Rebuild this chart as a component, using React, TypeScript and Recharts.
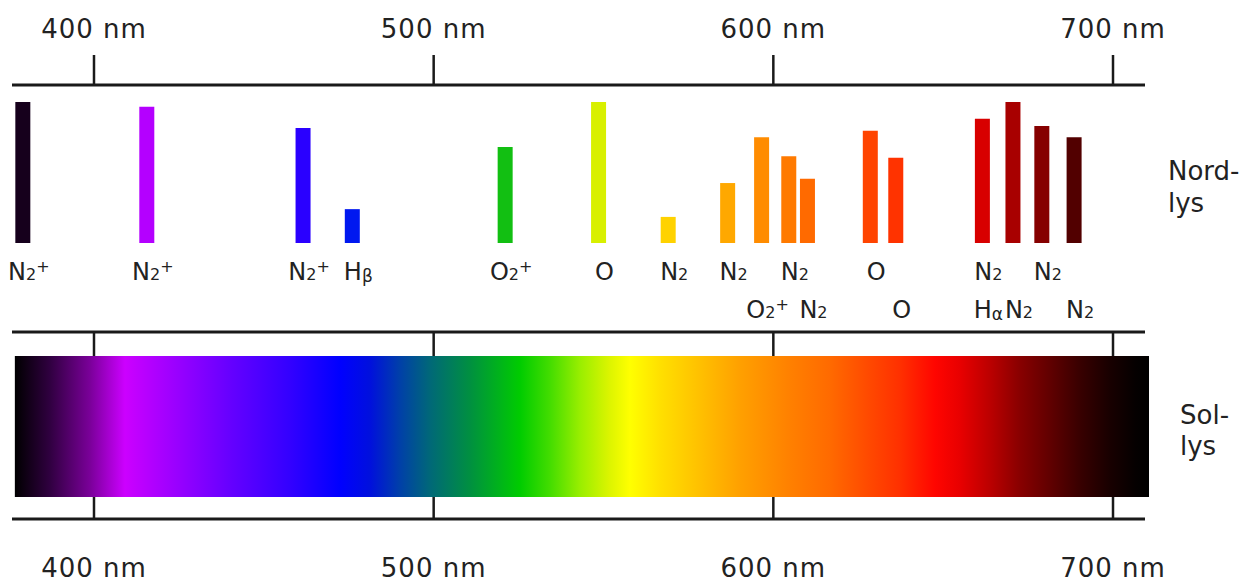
import React from "react";
import {
  ComposedChart,
  Bar,
  Cell,
  XAxis,
  YAxis,
  LabelList,
  ReferenceArea,
} from "recharts";

// emission lines of the aurora (nm, as drawn) and relative intensity
const wavelengths = [
  379, 415.5, 461.5, 476, 521, 548.5, 569, 586.5, 596.5, 604.5, 610, 628.5,
  636, 661.5, 670.5, 679, 688.5,
];
const intensity = [
  100, 96.5, 81.5, 24, 68, 100, 18.5, 42.5, 75, 61.5, 45.5, 79.5, 60.5, 88,
  100, 83, 75,
];
// first and second row of labels under the lines
const labelUpper = [
  "N2+", "N2+", "N2+", "Hβ", "O2+", "O", "N2", "N2", "", "N2", "", "O", "",
  "N2", "", "N2", "",
];
const labelLower = [
  "", "", "", "", "", "", "", "", "O2+", "", "N2", "", "O", "Hα", "N2", "",
  "N2",
];
const axisTicks = [400, 500, 600, 700];
// visible range of the sunlight band (nm)
const spectrumStart = 376.7;
const spectrumEnd = 710.6;

const BAR_COLORS = [
  "#16001c", "#b400ff", "#2a00ff", "#0018f0", "#12bf12", "#d8f000",
  "#ffd200", "#ffa800", "#ff8c00", "#ff7a00", "#ff6a00", "#ff4400",
  "#ff3300", "#d80000", "#a80000", "#860000", "#520000",
];

// colour stops of the sunlight spectrum, keyed by wavelength
const SPECTRUM_STOPS: [number, string][] = [
  [376.7, "#000000"],
  [387.0, "#300040"],
  [398.8, "#7a0099"],
  [409.1, "#cc00ff"],
  [422.4, "#a000ff"],
  [440.0, "#6600ff"],
  [457.7, "#3300ff"],
  [472.4, "#0000ff"],
  [481.3, "#0010dd"],
  [490.1, "#0040a8"],
  [498.9, "#006878"],
  [510.7, "#009040"],
  [525.4, "#00cc00"],
  [534.3, "#44dd00"],
  [543.1, "#99ee00"],
  [551.9, "#ddf500"],
  [557.8, "#ffff00"],
  [566.6, "#ffe000"],
  [578.4, "#ffc000"],
  [590.2, "#ffa000"],
  [604.9, "#ff8000"],
  [616.7, "#ff6a00"],
  [628.5, "#ff4800"],
  [637.3, "#ff3000"],
  [647.6, "#ff0500"],
  [655.0, "#e80000"],
  [663.8, "#bb0000"],
  [672.6, "#880000"],
  [681.5, "#600000"],
  [690.3, "#380000"],
  [699.1, "#180000"],
  [706.5, "#050000"],
  [710.6, "#000000"],
];

const FONT = '"DejaVu Sans", Verdana, sans-serif';
const INK = "#1a1a1a";
const X_DOMAIN: [number, number] = [375.86, 709.42];

const chartData = wavelengths.map((nm, i) => ({
  nm,
  value: intensity[i],
  upper: labelUpper[i],
  lower: labelLower[i],
}));

// the sunlight band as one record spanning the visible range
const bandData = [{ nm: spectrumStart, end: spectrumEnd }];

// draws e.g. "N2+" as N with a small 2 and a raised +
function Formula({ x, y, text }: { x: number; y: number; text: string }) {
  const parts = Array.from(text).map((ch, i) => {
    if (/[0-9]/.test(ch)) {
      return (
        <tspan key={i} fontSize={16}>
          {ch}
        </tspan>
      );
    }
    if (ch === "+") {
      return (
        <tspan key={i} fontSize={16} dy={-8}>
          +
        </tspan>
      );
    }
    if (/[α-ω]/.test(ch)) {
      return (
        <tspan key={i} fontSize={17} dy={2}>
          {ch}
        </tspan>
      );
    }
    return <tspan key={i}>{ch}</tspan>;
  });
  return (
    <text
      x={x}
      y={y}
      textAnchor="middle"
      fontSize={24}
      fontFamily={FONT}
      fill="#222"
    >
      {parts}
    </text>
  );
}

const rowLabel = (offset: number) => (props: any) => {
  const { x, y, width, height, value } = props;
  if (!value) return null;
  return (
    <Formula
      x={Number(x) + Number(width) / 2 + 6}
      y={Number(y) + Number(height) + offset}
      text={String(value)}
    />
  );
};

// tick pointing down into the band, no text
function MidTick(props: any) {
  const { x, y } = props;
  return (
    <line x1={x} x2={x} y1={y} y2={y + 24} stroke={INK} strokeWidth={2.5} />
  );
}

// tick pointing up into the band, label below the axis
function BottomTick(props: any) {
  const { x, y, payload } = props;
  return (
    <g>
      <line x1={x} x2={x} y1={y - 22} y2={y} stroke={INK} strokeWidth={2.5} />
      <text
        x={x}
        y={y + 58}
        textAnchor="middle"
        fontSize={26}
        letterSpacing={1}
        fill="#222"
        fontFamily={FONT}
      >
        {`${payload.value} nm`}
      </text>
    </g>
  );
}

const sideText: React.CSSProperties = {
  position: "absolute",
  fontFamily: FONT,
  fontSize: 26,
  color: "#222",
  whiteSpace: "pre",
};

export default function App() {
  const span = spectrumEnd - spectrumStart;
  return (
    <div
      style={{
        position: "absolute",
        left: 0,
        top: 0,
        width: 1243,
        height: 586,
        background: "#fff",
        overflow: "hidden",
      }}
    >
      {/* aurora emission lines */}
      <div style={{ position: "absolute", left: 0, top: 0 }}>
        <ComposedChart
          width={1243}
          height={330}
          data={chartData}
          margin={{ top: 0, right: 98, left: 12, bottom: 87 }}
        >
          <XAxis
            dataKey="nm"
            type="number"
            orientation="top"
            domain={X_DOMAIN}
            ticks={axisTicks}
            interval={0}
            height={85}
            tickSize={30}
            tickMargin={17}
            tickFormatter={(v) => `${v} nm`}
            axisLine={{ stroke: INK, strokeWidth: 3 }}
            tickLine={{ stroke: INK, strokeWidth: 2.5 }}
            tick={{
              fontSize: 26,
              fill: "#222",
              fontFamily: FONT,
              letterSpacing: 1,
            }}
          />
          <YAxis hide domain={[0, 112]} />
          <Bar dataKey="value" barSize={15} isAnimationActive={false}>
            {chartData.map((d, i) => (
              <Cell key={d.nm} fill={BAR_COLORS[i]} />
            ))}
            <LabelList dataKey="upper" content={rowLabel(37)} />
            <LabelList dataKey="lower" content={rowLabel(75)} />
          </Bar>
        </ComposedChart>
      </div>

      {/* sunlight spectrum */}
      <div style={{ position: "absolute", left: 0, top: 0 }}>
        <ComposedChart
          width={1243}
          height={586}
          data={bandData}
          margin={{ top: 332, right: 98, left: 12, bottom: 0 }}
        >
          <defs>
            <linearGradient id="sunlight" x1="0" y1="0" x2="1" y2="0">
              {SPECTRUM_STOPS.map(([nm, color]) => (
                <stop
                  key={nm}
                  offset={`${((nm - spectrumStart) / span) * 100}%`}
                  stopColor={color}
                />
              ))}
            </linearGradient>
          </defs>
          <XAxis
            xAxisId="mid"
            dataKey="nm"
            type="number"
            orientation="top"
            mirror
            domain={X_DOMAIN}
            allowDataOverflow
            ticks={axisTicks}
            interval={0}
            tickSize={0}
            tickMargin={0}
            tickLine={false}
            axisLine={{ stroke: INK, strokeWidth: 3 }}
            tick={(p: any) => <MidTick {...p} />}
          />
          <XAxis
            xAxisId="base"
            dataKey="nm"
            type="number"
            orientation="bottom"
            domain={X_DOMAIN}
            allowDataOverflow
            ticks={axisTicks}
            interval={0}
            height={67}
            tickSize={0}
            tickMargin={0}
            tickLine={false}
            axisLine={{ stroke: INK, strokeWidth: 3 }}
            tick={(p: any) => <BottomTick {...p} />}
          />
          <YAxis hide domain={[-22, 165]} allowDataOverflow />
          <ReferenceArea
            xAxisId="base"
            x1={bandData[0].nm}
            x2={bandData[0].end}
            y1={0}
            y2={141}
            fill="url(#sunlight)"
            fillOpacity={1}
            stroke="none"
            ifOverflow="visible"
          />
        </ComposedChart>
      </div>

      <div style={{ ...sideText, left: 1168, top: 155, lineHeight: "32px" }}>
        {"Nord-\nlys"}
      </div>
      <div style={{ ...sideText, left: 1180, top: 400, lineHeight: "31px" }}>
        {"Sol-\nlys"}
      </div>
    </div>
  );
}
